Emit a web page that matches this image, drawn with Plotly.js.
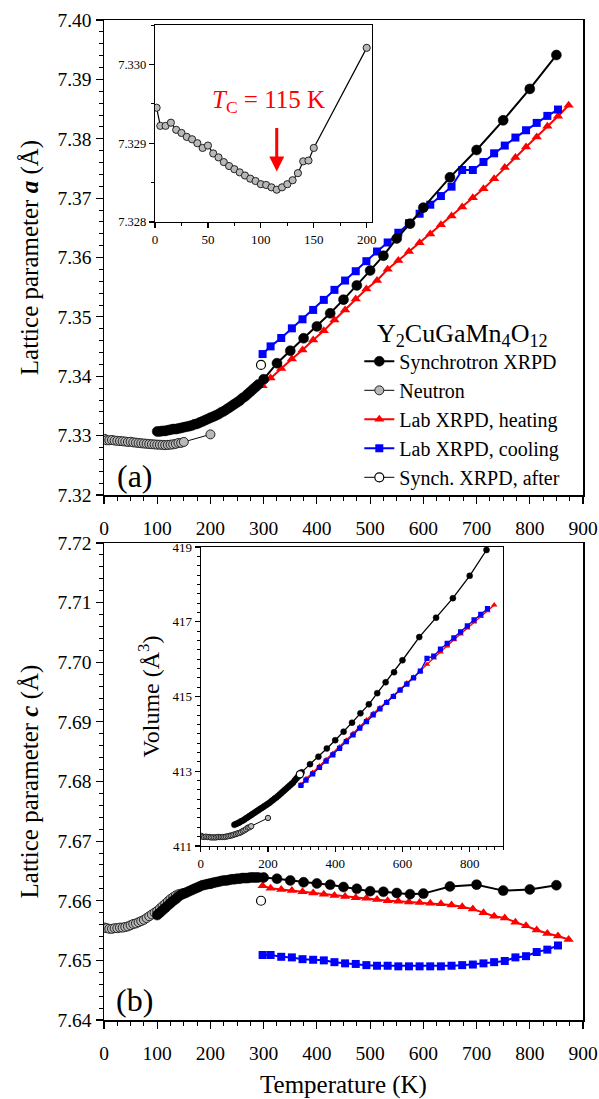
<!DOCTYPE html>
<html>
<head>
<meta charset="utf-8">
<script src="https://cdn.plot.ly/plotly-3.0.1.min.js"></script>
<style>html,body{margin:0;padding:0;background:#fff;}</style>
</head>
<body>
<div id="chart" style="width:599px;height:1099px;"></div>
<script>
// ---------- DATA ----------
// Synchrotron XRPD
const syncT = [100,105,110,115,120,125,130,135,140,145,150,155,160,165,170,175,180,185,190,195,200,205,210,215,220,225,230,235,240,245,250,255,260,265,270,275,280,285,290,
  300,325,350,375,400,425,450,475,500,525,550,575,600,650,700,750,800,850];
const syncA = [7.3307,7.3307,7.3308,7.3308,7.3309,7.3310,7.3311,7.3311,7.3312,7.3313,7.3314,7.3315,7.3316,7.3317,7.3319,7.3320,7.3322,7.3324,7.3326,7.3328,7.3330,7.3332,7.3334,7.3336,7.3339,7.3341,7.3344,7.3347,7.3350,7.3353,7.3356,7.3359,7.3363,7.3366,7.3370,7.3374,7.3378,7.3382,7.3386,
  7.3395,7.3422,7.3443,7.3464,7.3484,7.3506,7.3529,7.3553,7.3578,7.3603,7.3632,7.3657,7.3684,7.3735,7.3781,7.3831,7.3884,7.3941];
const syncC = [7.6576,7.6580,7.6584,7.6588,7.6592,7.6596,7.6600,7.6603,7.6607,7.6610,7.6612,7.6614,7.6616,7.6618,7.6620,7.6622,7.6624,7.6626,7.6627,7.6628,7.6629,7.6630,7.6631,7.6632,7.6633,7.6634,7.6634,7.6635,7.6636,7.6636,7.6637,7.6637,7.6638,7.6638,7.6638,7.6639,7.6639,7.6639,7.6639,
  7.6639,7.6637,7.6634,7.6631,7.6629,7.6627,7.6623,7.6620,7.6616,7.6615,7.6613,7.6611,7.6612,7.6624,7.6627,7.6617,7.6619,7.6626];
const syncV = [411.57,411.59,411.61,411.63,411.66,411.68,411.71,411.74,411.77,411.80,411.83,411.86,411.89,411.92,411.95,411.98,412.01,412.04,412.07,412.10,412.13,412.16,412.20,412.23,412.27,412.30,412.34,412.38,412.42,412.46,412.50,412.54,412.58,412.62,412.66,412.70,412.76,412.81,412.86,
  412.97,413.19,413.39,413.61,413.83,414.06,414.30,414.55,414.79,415.09,415.38,415.65,415.97,416.59,417.11,417.63,418.23,418.92];

// Neutron
const neutT = [1.5,5,10,15,20,25,30,35,40,45,50,55,60,65,70,75,80,85,90,95,100,105,110,115,120,125,130,135,140,145,150,200];
const neutA = [7.32945,7.32922,7.32922,7.32926,7.32917,7.32913,7.32908,7.32905,7.32900,7.32894,7.32897,7.32887,7.32882,7.32876,7.32871,7.32867,7.32863,7.32859,7.32855,7.32852,7.32848,7.32847,7.32844,7.32841,7.32844,7.32848,7.32853,7.32862,7.32877,7.32878,7.32894,7.33021];
const neutC = [7.6555,7.6554,7.6553,7.6553,7.6554,7.6554,7.6555,7.6555,7.6556,7.6557,7.6559,7.6561,7.6562,7.6564,7.6566,7.6568,7.6571,7.6574,7.6577,7.6580,7.6583,7.6587,7.6591,7.6595,7.6599,7.6603,7.6606,7.6609,7.6611,7.6612,7.6613,7.6628];
const neutV = [411.27,411.25,411.24,411.25,411.24,411.24,411.23,411.23,411.23,411.23,411.24,411.24,411.24,411.24,411.24,411.25,411.26,411.27,411.28,411.29,411.31,411.32,411.34,411.35,411.37,411.40,411.42,411.45,411.49,411.50,411.53,411.75];

// Lab XRPD, heating
const heatT = [298,313,333,353,373,393,413,433,453,473,493,513,533,553,573,593,613,633,653,673,693,713,733,753,773,793,813,833,853,873];
const heatA = [7.33840,7.33969,7.34131,7.34290,7.34442,7.34611,7.34768,7.34948,7.35117,7.35303,7.35471,7.35612,7.35803,7.35949,7.36101,7.36248,7.36394,7.36552,7.36697,7.36849,7.37007,7.37159,7.37328,7.37514,7.37683,7.37862,7.38031,7.38211,7.38380,7.38565];
const heatC = [7.6625,7.6621,7.6619,7.6617,7.6615,7.6613,7.6611,7.6609,7.6607,7.6605,7.6604,7.6602,7.6600,7.6599,7.6598,7.6597,7.6596,7.6595,7.6593,7.6590,7.6586,7.6580,7.6574,7.6571,7.6564,7.6558,7.6551,7.6545,7.6541,7.6535];
const heatV = [412.64,412.80,412.97,413.14,413.31,413.48,413.65,413.83,414.01,414.19,414.37,414.55,414.70,414.86,415.02,415.19,415.36,415.52,415.68,415.86,416.03,416.19,416.35,416.52,416.67,416.83,416.99,417.14,417.29,417.45];

// Lab XRPD, cooling
const coolT = [298,313,333,353,373,393,413,433,453,473,493,513,533,553,573,593,613,633,653,673,693,713,733,753,773,793,813,833,853];
const coolA = [7.34374,7.34503,7.34644,7.34807,7.34959,7.35117,7.35286,7.35455,7.35612,7.35769,7.35938,7.36101,7.36253,7.36417,7.36579,7.36737,7.36889,7.37035,7.37193,7.37474,7.37474,7.37609,7.37755,7.37885,7.38020,7.38143,7.38267,7.38385,7.38492];
const coolC = [7.6509,7.6509,7.6506,7.6505,7.6502,7.6501,7.6500,7.6497,7.6495,7.6494,7.6492,7.6491,7.6491,7.6490,7.6490,7.6490,7.6490,7.6490,7.6491,7.6492,7.6493,7.6495,7.6497,7.6499,7.6505,7.6507,7.6514,7.6518,7.6525];
const coolV = [412.62,412.76,412.93,413.10,413.27,413.44,413.61,413.79,413.97,414.15,414.33,414.51,414.67,414.84,415.00,415.17,415.33,415.50,415.68,416.02,416.08,416.27,416.42,416.57,416.73,416.89,417.05,417.20,417.35];

// Synch. XRPD, after
const afterT = [295];
const afterA = [7.3419];
const afterC = [7.6600];
const afterV = [412.92];

const seriesNames = ['Synchrotron XRPD','Neutron','Lab XRPD, heating','Lab XRPD, cooling','Synch. XRPD, after'];

// ---------- STYLE ----------
const FONT = 'Liberation Serif';
const styles = {
  sync:  {line:{color:'#000',width:2}, marker:{symbol:'circle',color:'#000',size:10,line:{color:'#000',width:0.5}}},
  neut:  {line:{color:'#000',width:1}, marker:{symbol:'circle',color:'#b8b8b8',size:9,line:{color:'#222',width:1}}},
  heat:  {line:{color:'#ff0000',width:2}, marker:{symbol:'triangle-up',color:'#ff0000',size:9,line:{width:0}}},
  cool:  {line:{color:'#0000ff',width:2}, marker:{symbol:'square',color:'#0000ff',size:8,line:{width:0}}},
  after: {line:{color:'#000',width:1}, marker:{symbol:'circle',color:'#fff',size:9,line:{color:'#000',width:1.2}}}
};
function tr(x, y, st, xa, ya, name, show, rank, scale, lw) {
  const m = JSON.parse(JSON.stringify(st.marker));
  m.size = m.size * (scale || 1);
  const l = JSON.parse(JSON.stringify(st.line));
  if (lw) l.width = lw;
  return {x:x, y:y, type:'scatter', mode:'lines+markers', xaxis:xa, yaxis:ya,
    name:name, showlegend:show, legendrank:rank, line:l, marker:m, hoverinfo:'skip'};
}

const data = [
  // panel a
  tr(neutT, neutA, styles.neut, 'x', 'y', seriesNames[1], true, 2),
  tr(heatT, heatA, styles.heat, 'x', 'y', seriesNames[2], true, 3),
  tr(coolT, coolA, styles.cool, 'x', 'y', seriesNames[3], true, 4),
  tr(syncT, syncA, styles.sync, 'x', 'y', seriesNames[0], true, 1),
  tr(afterT, afterA, styles.after, 'x', 'y', seriesNames[4], true, 5),
  // panel b
  tr(neutT, neutC, styles.neut, 'x2', 'y2', seriesNames[1], false, 2),
  tr(heatT, heatC, styles.heat, 'x2', 'y2', seriesNames[2], false, 3),
  tr(coolT, coolC, styles.cool, 'x2', 'y2', seriesNames[3], false, 4),
  tr(syncT, syncC, styles.sync, 'x2', 'y2', seriesNames[0], false, 1),
  tr(afterT, afterC, styles.after, 'x2', 'y2', seriesNames[4], false, 5),
  // inset a (neutron a)
  tr(neutT, neutA, styles.neut, 'x3', 'y3', seriesNames[1], false, 2, 0.8, 1.2),
  // inset b (volume)
  tr(neutT, neutV, styles.neut, 'x4', 'y4', seriesNames[1], false, 2, 0.6, 1),
  tr(heatT, heatV, styles.heat, 'x4', 'y4', seriesNames[2], false, 3, 0.65, 1.3),
  tr(coolT, coolV, styles.cool, 'x4', 'y4', seriesNames[3], false, 4, 0.65, 1.3),
  tr(syncT, syncV, styles.sync, 'x4', 'y4', seriesNames[0], false, 1, 0.6, 1.3),
  tr(afterT, afterV, styles.after, 'x4', 'y4', seriesNames[4], false, 5, 0.8, 1)
];

function axisBase(extra) {
  return Object.assign({
    showline:true, linecolor:'#000', linewidth:1.5, mirror:true,
    ticks:'outside', ticklen:7, tickwidth:1.2, tickcolor:'#000',
    showgrid:false, zeroline:false,
    tickfont:{family:FONT, size:19.5, color:'#000'}
  }, extra);
}

const layout = {
  width:599, height:1099,
  margin:{l:104, r:16, t:20, b:79},
  paper_bgcolor:'#fff', plot_bgcolor:'#fff',
  font:{family:FONT, color:'#000', size:16},
  showlegend:true,
  xaxis: axisBase({domain:[0,1], anchor:'y', range:[0,900], dtick:100, tick0:0,
    ticklabelstandoff:8,
    minor:{dtick:25, ticks:'outside', ticklen:4, tickcolor:'#000', tickwidth:1}}),
  yaxis: axisBase({domain:[0.525,1], anchor:'x', range:[7.32,7.40], dtick:0.01, tick0:7.32, tickformat:'.2f',
    minor:{dtick:0.002, ticks:'outside', ticklen:4, tickcolor:'#000', tickwidth:1},
    title:{text:'Lattice parameter <b><i>a</i></b> (Å)', font:{family:FONT, size:25, color:'#000'}, standoff:11}}),
  xaxis2: axisBase({domain:[0,1], anchor:'y2', range:[0,900], dtick:100, tick0:0,
    ticklabelstandoff:8,
    minor:{dtick:25, ticks:'outside', ticklen:4, tickcolor:'#000', tickwidth:1},
    title:{text:'Temperature (K)', font:{family:FONT, size:25, color:'#000'}, standoff:13}}),
  yaxis2: axisBase({domain:[0,0.477], anchor:'x2', range:[7.64,7.72], dtick:0.01, tick0:7.64, tickformat:'.2f',
    minor:{dtick:0.002, ticks:'outside', ticklen:4, tickcolor:'#000', tickwidth:1},
    title:{text:'Lattice parameter <b><i>c</i></b> (Å)', font:{family:FONT, size:25, color:'#000'}, standoff:11}}),
  xaxis3: axisBase({domain:[0.1065,0.5595], anchor:'y3', range:[0,205], dtick:50, tick0:0, linewidth:1.2,
    ticklen:5, tickfont:{family:FONT, size:13, color:'#000'},
    minor:{dtick:25, ticks:'outside', ticklen:3, tickcolor:'#000', tickwidth:1}}),
  yaxis3: axisBase({domain:[0.798,0.995], anchor:'x3', range:[7.328,7.3305], dtick:0.001, tick0:7.328, tickformat:'.3f', linewidth:1.2,
    ticklen:5, tickfont:{family:FONT, size:12.5, color:'#000'},
    minor:{dtick:0.0005, ticks:'outside', ticklen:3, tickcolor:'#000', tickwidth:1}}),
  xaxis4: axisBase({domain:[0.202,0.8336], anchor:'y4', range:[0,900], dtick:200, tick0:0, linewidth:1.2,
    ticklen:5, tickfont:{family:FONT, size:13, color:'#000'},
    minor:{dtick:25, ticks:'outside', ticklen:3, tickcolor:'#000', tickwidth:1}}),
  yaxis4: axisBase({domain:[0.174,0.473], anchor:'x4', range:[411,419], dtick:2, tick0:411, linewidth:1.2,
    ticklen:5, tickfont:{family:FONT, size:13, color:'#000'},
    minor:{dtick:0.25, ticks:'outside', ticklen:3, tickcolor:'#000', tickwidth:1},
    title:{text:'Volume (Å<sup>3</sup>)', font:{family:FONT, size:24, color:'#000'}, standoff:6}}),
  legend:{
    x:0.533, xanchor:'left', y:0.712, yanchor:'top',
    bgcolor:'rgba(0,0,0,0)', borderwidth:0,
    font:{family:FONT, size:20, color:'#000'},
    title:{text:'Y<sub>2</sub>CuGaMn<sub>4</sub>O<sub>12</sub>', side:'top center', font:{family:FONT, size:26, color:'#000'}},
    traceorder:'normal'
  },
  annotations:[
    {xref:'paper', yref:'paper', x:0.0646, y:0.544, xanchor:'center', yanchor:'middle', text:'(a)', showarrow:false, font:{family:FONT, size:32, color:'#000'}},
    {xref:'paper', yref:'paper', x:0.0646, y:0.02, xanchor:'center', yanchor:'middle', text:'(b)', showarrow:false, font:{family:FONT, size:32, color:'#000'}},
    {xref:'x3', yref:'y3', x:107, y:7.32953, xanchor:'center', yanchor:'middle', text:'<i>T</i><sub>C</sub> = 115 K', showarrow:false, font:{family:FONT, size:25, color:'#ff0000'}},
    {xref:'x3', yref:'y3', x:115, y:7.32864, text:' ', showarrow:true, ax:0, ay:-46, arrowcolor:'#ff0000', arrowwidth:3, arrowhead:2, arrowsize:1, standoff:0, font:{size:2}}
  ]
};

Plotly.newPlot('chart', data, layout, {displayModeBar:false, staticPlot:true});
</script>
</body>
</html>
